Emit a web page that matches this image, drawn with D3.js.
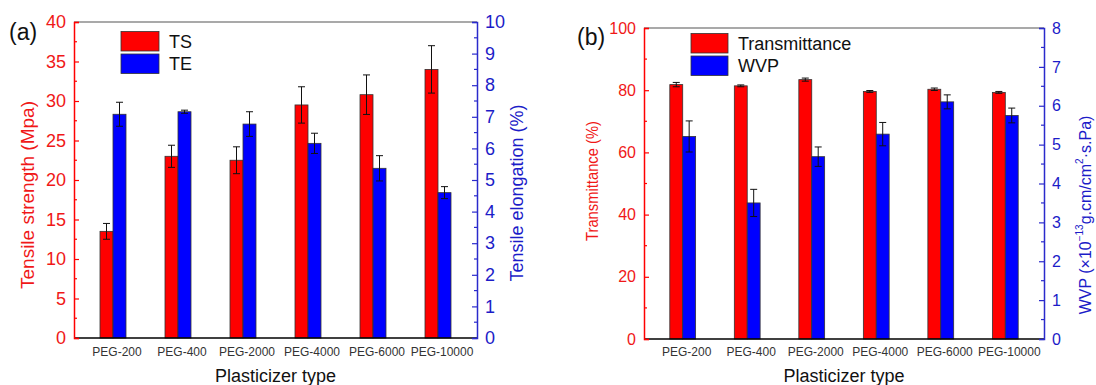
<!DOCTYPE html>
<html>
<head>
<meta charset="utf-8">
<script src="https://cdn.jsdelivr.net/npm/d3@7"></script>
<style>
  body { margin: 0; background: #fff; }
  svg { display: block; font-family: "Liberation Sans", Arial, sans-serif; }
</style>
</head>
<body>
<svg id="chart" width="1096" height="385"></svg>
<script>
const categories = ['PEG-200', 'PEG-400', 'PEG-2000', 'PEG-4000', 'PEG-6000', 'PEG-10000'];

// panel (a)
const tsValues = [13.5, 23.0, 22.5, 29.5, 30.8, 34.0];
const tsErrors = [1.0, 1.4, 1.7, 2.3, 2.5, 3.0];
const teValues = [7.08, 7.16, 6.77, 6.16, 5.37, 4.6];
const teErrors = [0.38, 0.05, 0.39, 0.32, 0.4, 0.19];
const tsTicks = [0, 5, 10, 15, 20, 25, 30, 35, 40];
const teTicks = [0, 1, 2, 3, 4, 5, 6, 7, 8, 9, 10];

// panel (b)
const transValues = [81.8, 81.4, 83.4, 79.6, 80.3, 79.3];
const transErrors = [0.7, 0.3, 0.5, 0.3, 0.4, 0.3];
const wvpValues = [5.21, 3.50, 4.69, 5.27, 6.10, 5.75];
const wvpErrors = [0.4, 0.35, 0.25, 0.3, 0.18, 0.19];
const transTicks = [0, 20, 40, 60, 80, 100];
const wvpTicks = [0, 1, 2, 3, 4, 5, 6, 7, 8];

const RED = '#ff0000';
const BLUE = '#0000ff';
const RED_TXT = '#f01818';
const BLUE_TXT = '#1c1cc8';

const svg = d3.select('#chart');

function drawPanel(p) {
  const g = svg.append('g');
  const x = d3.scalePoint().domain(categories).range([p.x0, p.x1]).padding(0.6);
  const yL = d3.scaleLinear().domain([0, p.leftTicks[p.leftTicks.length - 1]]).range([p.yBot, p.yTop]);
  const yR = d3.scaleLinear().domain([0, p.rightTicks[p.rightTicks.length - 1]]).range([p.yBot, p.yTop]);
  const bw = x.step() * 0.2;

  // bars + error bars
  const drawBars = (vals, errs, y, fill, off) => {
    g.append('g').selectAll('rect')
      .data(vals)
      .join('rect')
      .attr('x', (d, i) => x(categories[i]) + off)
      .attr('y', d => y(d))
      .attr('width', bw)
      .attr('height', d => p.yBot - y(d))
      .attr('fill', fill)
      .attr('stroke', '#333')
      .attr('stroke-width', 0.8);

    const eb = g.append('g').attr('stroke', '#111').attr('stroke-width', 1);
    vals.forEach((v, i) => {
      const cx = x(categories[i]) + off + bw / 2;
      const t = y(v + errs[i]), b = y(v - errs[i]);
      eb.append('line').attr('x1', cx).attr('x2', cx).attr('y1', t).attr('y2', b);
      eb.append('line').attr('x1', cx - 3.5).attr('x2', cx + 3.5).attr('y1', t).attr('y2', t);
      eb.append('line').attr('x1', cx - 3.5).attr('x2', cx + 3.5).attr('y1', b).attr('y2', b);
    });
  };
  drawBars(p.leftVals, p.leftErrs, yL, RED, -bw);
  drawBars(p.rightVals, p.rightErrs, yR, BLUE, 0);

  // top / bottom frame
  g.append('line').attr('x1', p.x0).attr('x2', p.x1).attr('y1', p.yTop).attr('y2', p.yTop)
    .attr('stroke', '#555').attr('stroke-width', 1.2);
  g.append('line').attr('x1', p.x0).attr('x2', p.x1).attr('y1', p.yBot).attr('y2', p.yBot)
    .attr('stroke', '#000').attr('stroke-width', 1.4);

  // left axis
  const la = g.append('g').attr('transform', `translate(${p.x0},0)`)
    .call(d3.axisLeft(yL).tickValues(p.leftTicks).tickSize(-5).tickPadding(8));
  la.select('.domain').attr('stroke', RED).attr('stroke-width', 1.5);
  la.selectAll('.tick line').attr('stroke', RED).attr('stroke-width', 1.2);
  la.selectAll('.tick text').attr('fill', RED_TXT).attr('font-size', p.tickFont)
    .attr('font-family', '"Liberation Sans", Arial, sans-serif');
  const lStep = p.leftTicks[1] - p.leftTicks[0];
  g.append('g').selectAll('line')
    .data(p.leftTicks.slice(0, -1).map(t => t + lStep / 2))
    .join('line')
    .attr('x1', p.x0).attr('x2', p.x0 + 3)
    .attr('y1', d => yL(d)).attr('y2', d => yL(d))
    .attr('stroke', RED).attr('stroke-width', 1.2);

  // right axis
  const ra = g.append('g').attr('transform', `translate(${p.x1},0)`)
    .call(d3.axisRight(yR).tickValues(p.rightTicks).tickSize(-5).tickPadding(8));
  ra.select('.domain').attr('stroke', '#2a2acc').attr('stroke-width', 1.5);
  ra.selectAll('.tick line').attr('stroke', '#2a2acc').attr('stroke-width', 1.2);
  ra.selectAll('.tick text').attr('fill', BLUE_TXT).attr('font-size', p.tickFont)
    .attr('font-family', '"Liberation Sans", Arial, sans-serif');
  const rStep = p.rightTicks[1] - p.rightTicks[0];
  g.append('g').selectAll('line')
    .data(p.rightTicks.slice(0, -1).map(t => t + rStep / 2))
    .join('line')
    .attr('x1', p.x1).attr('x2', p.x1 - 3)
    .attr('y1', d => yR(d)).attr('y2', d => yR(d))
    .attr('stroke', '#2a2acc').attr('stroke-width', 1.2);

  // category labels
  g.append('g').selectAll('text')
    .data(categories)
    .join('text')
    .attr('x', d => x(d) + 4)
    .attr('y', 356)
    .attr('text-anchor', 'middle')
    .attr('font-size', 12)
    .attr('fill', '#333')
    .text(d => d);

  // x title
  g.append('text')
    .attr('x', (p.x0 + p.x1) / 2).attr('y', 382)
    .attr('text-anchor', 'middle').attr('font-size', 18).attr('fill', '#111')
    .text('Plasticizer type');

  // y titles
  const lt = g.append('text')
    .attr('transform', `translate(${p.leftTitleX},${p.leftTitleY}) rotate(-90)`)
    .attr('text-anchor', 'middle').attr('dominant-baseline', 'central')
    .attr('font-size', p.leftTitleFont).attr('fill', RED_TXT)
    .text(p.leftTitle);
  if (p.leftTitleLen) lt.attr('textLength', p.leftTitleLen).attr('lengthAdjust', 'spacingAndGlyphs');
  const rt = g.append('text')
    .attr('transform', `translate(${p.rightTitleX},${p.rightTitleY}) rotate(-90)`)
    .attr('text-anchor', 'middle').attr('dominant-baseline', 'central')
    .attr('font-size', p.rightTitleFont).attr('fill', BLUE_TXT);
  p.rightTitle(rt);

  // panel label
  g.append('text').attr('x', p.labelX).attr('y', p.labelY)
    .attr('dominant-baseline', 'central')
    .attr('font-size', 23).attr('fill', '#111').text(p.label);

  // legend
  const lg = g.append('g');
  p.legend.forEach((name, i) => {
    lg.append('rect')
      .attr('x', p.legX).attr('y', p.legY + i * 22.5)
      .attr('width', p.legW).attr('height', 19.5)
      .attr('fill', i === 0 ? RED : BLUE)
      .attr('stroke', '#333').attr('stroke-width', 0.8);
    lg.append('text')
      .attr('x', p.legX + p.legW + 10).attr('y', p.legY + i * 22.5 + 10)
      .attr('dominant-baseline', 'central')
      .attr('font-size', 18).attr('fill', '#111').text(name);
  });
}

drawPanel({
  x0: 74, x1: 477, yTop: 22, yBot: 338,
  leftVals: tsValues, leftErrs: tsErrors, rightVals: teValues, rightErrs: teErrors,
  leftTicks: tsTicks, rightTicks: teTicks, tickFont: 18,
  leftTitle: 'Tensile strength (Mpa)', leftTitleX: 27, leftTitleY: 195, leftTitleFont: 19,
  rightTitle: t => t.text('Tensile elongation (%)'), rightTitleX: 517, rightTitleY: 193, rightTitleFont: 18,
  label: '(a)', labelX: 9, labelY: 32,
  legend: ['TS', 'TE'], legX: 121, legY: 31.5, legW: 38
});

drawPanel({
  x0: 644, x1: 1044, yTop: 28, yBot: 339,
  leftVals: transValues, leftErrs: transErrors, rightVals: wvpValues, rightErrs: wvpErrors,
  leftTicks: transTicks, rightTicks: wvpTicks, tickFont: 16,
  leftTitle: 'Transmittance (%)', leftTitleX: 592, leftTitleY: 181, leftTitleFont: 17, leftTitleLen: 120,
  rightTitle: t => {
    t.append('tspan').text('WVP (×10');
    t.append('tspan').attr('baseline-shift', 'super').attr('font-size', 10).text('−13');
    t.append('tspan').text('g.cm/cm');
    t.append('tspan').attr('baseline-shift', 'super').attr('font-size', 10).text('2');
    t.append('tspan').text('·s.Pa)');
  },
  rightTitleX: 1085, rightTitleY: 215, rightTitleFont: 16,
  label: '(b)', labelX: 577, labelY: 37,
  legend: ['Transmittance', 'WVP'], legX: 691, legY: 33.5, legW: 37
});
</script>
</body>
</html>
